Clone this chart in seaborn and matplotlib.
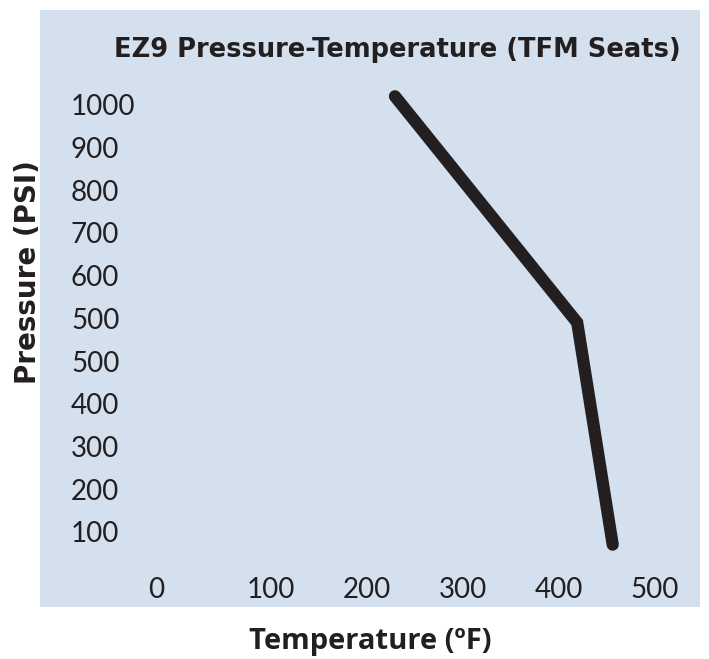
import matplotlib
matplotlib.use("Agg")
import matplotlib.pyplot as plt
import matplotlib.transforms as mtransforms
import seaborn as sns
import pandas as pd

# Data
temperature_f = [229, 419, 456]
pressure_psi = [1020, 490, -30]

x_ticks = [0, 100, 200, 300, 400, 500]
x_tick_labels = ["0", "100", "200", "300", "400", "500"]
y_ticks = [1000, 900, 800, 700, 600, 500, 400, 300, 200, 100, 0]
y_tick_labels = ["1000", "900", "800", "700", "600", "500", "500", "400", "300", "200", "100"]

title = "EZ9 Pressure-Temperature (TFM Seats)"
x_label = "Temperature (ºF)"
y_label = "Pressure (PSI)"

sns.set_theme(style="white")
plt.rcParams['font.family'] = ['Lato', 'DejaVu Sans']

W, H = 709, 659
fig = plt.figure(figsize=(W / 100, H / 100), dpi=100)
ax = fig.add_axes([40 / W, (H - 607) / H, 660 / W, 597 / H])
ax.set_facecolor("#d4e0ee")
for s in ax.spines.values():
    s.set_visible(False)

df = pd.DataFrame({"T": temperature_f, "P": pressure_psi})
sns.lineplot(data=df, x="T", y="P", sort=False, ax=ax, color="#231f20",
             linewidth=8.8, solid_capstyle="round", solid_joinstyle="miter")

ax.set_xlim(-141, 547)
ax.set_ylim(-176, 1222)
ax.set_xticks(x_ticks)
ax.set_xticklabels(x_tick_labels)
ax.set_yticks(y_ticks)
ax.set_yticklabels(y_tick_labels)

ax.tick_params(axis="x", direction="in", length=0, pad=-21.5, labelsize=20, labelcolor="#231f20")
ax.tick_params(axis="y", direction="in", length=0, pad=-22.3, labelsize=20, labelcolor="#231f20")
for lab in ax.get_yticklabels():
    lab.set_horizontalalignment("left")
# the "0" label sits a little further left in the reference
first = ax.get_xticklabels()[0]
first.set_transform(first.get_transform() + mtransforms.ScaledTranslation(-19 / 100, 0, fig.dpi_scale_trans))

bold_family = ["DejaVu Sans"]
ax.set_title(title, x=0.541, y=0.921, pad=0, fontsize=18.5, fontweight="bold",
             color="#231f20", family=bold_family)
ax.set_xlabel(x_label, fontsize=21, fontweight="bold", color="#231f20", family=["Open Sans", "DejaVu Sans"])
ax.set_ylabel(y_label, fontsize=20, fontweight="bold", color="#231f20", family=bold_family)
ax.xaxis.set_label_coords(0.5, -0.057)
ax.yaxis.set_label_coords(-0.018, 0.561)
ax.xaxis.label.set_verticalalignment("center")
ax.yaxis.label.set_verticalalignment("center")

fig.savefig("out.png", dpi=100)
